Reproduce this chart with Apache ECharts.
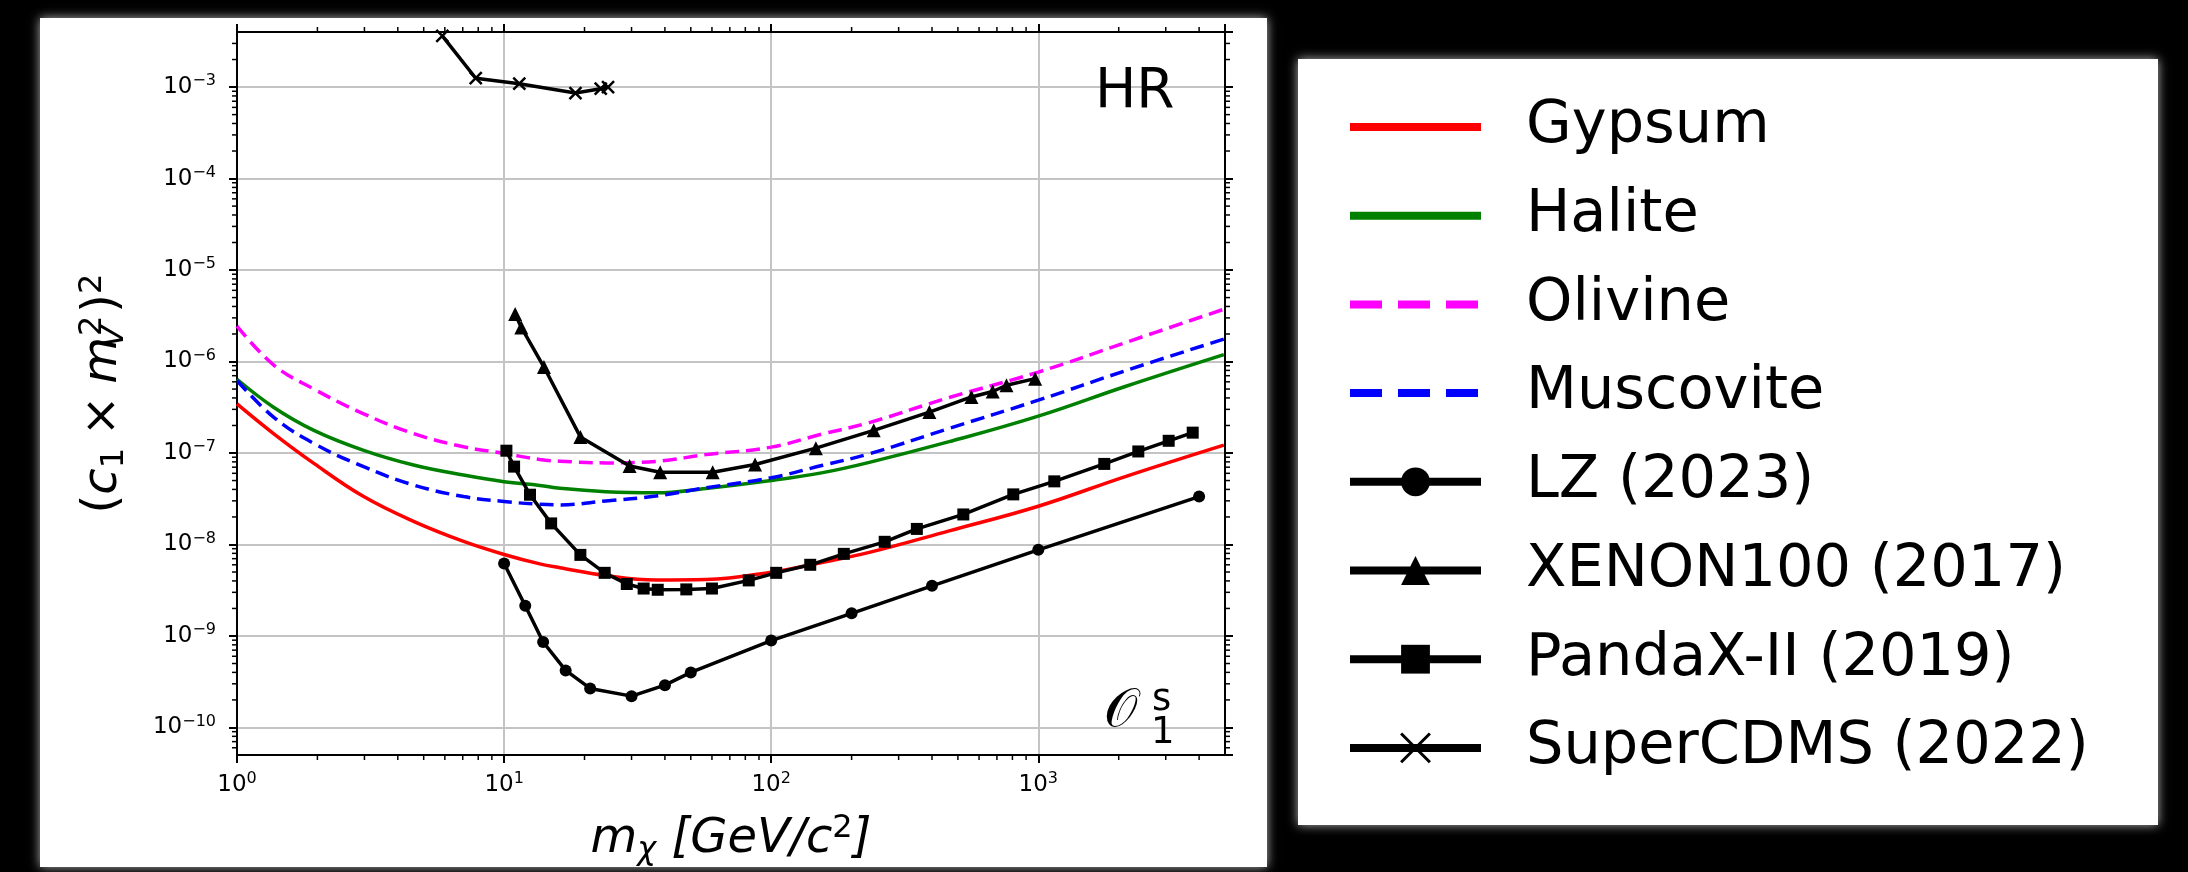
<!DOCTYPE html>
<html><head><meta charset="utf-8">
<script src="https://cdn.jsdelivr.net/npm/echarts@6.0.0/dist/echarts.min.js"></script>
<style>html,body{margin:0;padding:0;background:#000;overflow:hidden}#c{width:2188px;height:872px}</style>
</head><body><div id="c"></div><script>
// ---------- data ----------
const massGrid  = [1, 1.37, 1.94, 2.98, 4.58, 7.05, 10, 13.6, 16.2, 24, 37, 57, 100, 156, 233, 464, 1000, 2130, 4950];
const gypsum    = [3.44e-7, 1.63e-7, 7.7e-8, 3.34e-8, 1.79e-8, 1.08e-8, 7.78e-9, 6.14e-9, 5.57e-9, 4.58e-9, 4.1e-9, 4.15e-9, 4.99e-9, 6.4e-9, 8.2e-9, 1.41e-8, 2.62e-8, 5.56e-8, 1.22e-7];
const halite    = [6.4e-7, 3.17e-7, 1.77e-7, 1.07e-7, 7.4e-8, 5.74e-8, 4.86e-8, 4.42e-8, 4.11e-8, 3.78e-8, 3.68e-8, 4.1e-8, 5.0e-8, 6.1e-8, 7.9e-8, 1.33e-7, 2.53e-7, 5.37e-7, 1.19e-6];
const olivine   = [2.44e-6, 9.2e-7, 5.0e-7, 2.68e-7, 1.63e-7, 1.17e-7, 9.9e-8, 8.5e-8, 8.15e-8, 7.8e-8, 8.1e-8, 9.6e-8, 1.16e-7, 1.62e-7, 2.15e-7, 4.04e-7, 7.66e-7, 1.62e-6, 3.73e-6];
const muscovite = [6.2e-7, 2.47e-7, 1.27e-7, 7.08e-8, 4.47e-8, 3.34e-8, 2.95e-8, 2.75e-8, 2.71e-8, 2.99e-8, 3.39e-8, 4.17e-8, 5.36e-8, 7.35e-8, 9.8e-8, 1.86e-7, 3.78e-7, 7.98e-7, 1.76e-6];

const lzMass  = [10, 12, 14, 17, 21, 30, 40, 50, 100, 200, 400, 1000, 4000];
const lzLimit = [6.2e-9, 2.14e-9, 8.6e-10, 4.2e-10, 2.67e-10, 2.2e-10, 2.9e-10, 4.0e-10, 8.9e-10, 1.77e-9, 3.53e-9, 8.75e-9, 3.34e-8];

const xenonMass  = [11.0, 11.6, 14.1, 19.3, 29.5, 38.4, 60.4, 87, 147, 242, 391, 562, 675, 760, 973];
const xenonLimit = [3.3e-6, 2.36e-6, 8.7e-7, 1.5e-7, 7.2e-8, 6.15e-8, 6.15e-8, 7.5e-8, 1.13e-7, 1.77e-7, 2.8e-7, 4.1e-7, 4.7e-7, 5.5e-7, 6.5e-7];

const pandaMass  = [10.2, 10.9, 12.5, 15.0, 19.3, 23.8, 28.8, 33.3, 37.6, 48.1, 60, 82.4, 104.4, 140, 187, 266, 351, 524, 806, 1148, 1766, 2368, 3077, 3785];
const pandaLimit = [1.06e-7, 7.1e-8, 3.5e-8, 1.7e-8, 7.7e-9, 4.9e-9, 3.7e-9, 3.3e-9, 3.2e-9, 3.23e-9, 3.3e-9, 4.05e-9, 4.9e-9, 6.0e-9, 7.9e-9, 1.07e-8, 1.48e-8, 2.13e-8, 3.53e-8, 4.9e-8, 7.6e-8, 1.04e-7, 1.36e-7, 1.67e-7];

const cdmsMass  = [5.87, 7.83, 11.4, 18.5, 23.0, 24.5];
const cdmsLimit = [3.63e-3, 1.25e-3, 1.09e-3, 8.6e-4, 9.6e-4, 1.0e-3];

const X_MIN = 1, X_MAX = 5000, Y_MIN = 5e-11, Y_MAX = 4e-3;
const minorMultipliers = [2, 3, 4, 5, 6, 7, 8, 9];
const xDecades = [1, 10, 100, 1000];
const yDecades = [1e-11, 1e-10, 1e-9, 1e-8, 1e-7, 1e-6, 1e-5, 1e-4, 1e-3];

// ---------- helpers ----------
const FONT = 'DejaVu Sans';
function pairs(xs, ys) { return xs.map((x, i) => [x, ys[i]]); }
function minorValues(decades, lo, hi) {
  const out = [];
  decades.forEach(d => minorMultipliers.forEach(m => { const v = d * m; if (v > lo * 1.0001 && v < hi * 0.9999) out.push(v); }));
  return out;
}
function expLabel(v) {
  const e = Math.round(Math.log10(v));
  return '{b|10}{e|' + (e < 0 ? '\u2212' + (-e) : String(e)) + '}';
}
const tickRich = {
  b: { fontFamily: FONT, fontSize: 23, color: '#000', lineHeight: 28 },
  e: { fontFamily: FONT, fontSize: 16, color: '#000', lineHeight: 16, verticalAlign: 'top' }
};
const axisLineStyle = { color: '#000', width: 2 };

function minorTickSeries(values, dir) {
  return {
    type: 'custom', silent: true, z: 6, clip: false,
    data: values.map(v => dir === 'x' ? [v, Y_MIN] : [X_MIN, v]),
    renderItem: function (params, api) {
      const cs = params.coordSys;
      const p = api.coord([api.value(0), api.value(1)]);
      const st = { stroke: '#000', lineWidth: 1.5 };
      if (dir === 'x') {
        const x = p[0], b = cs.y + cs.height, t = cs.y;
        return { type: 'group', children: [
          { type: 'line', shape: { x1: x, y1: b, x2: x, y2: b + 5 }, style: st },
          { type: 'line', shape: { x1: x, y1: t, x2: x, y2: t - 5 }, style: st }
        ]};
      }
      const y = p[1], l = cs.x, r = cs.x + cs.width;
      return { type: 'group', children: [
        { type: 'line', shape: { x1: l, y1: y, x2: l - 5, y2: y }, style: st },
        { type: 'line', shape: { x1: r, y1: y, x2: r + 5, y2: y }, style: st }
      ]};
    }
  };
}

function curve(name, xs, ys, color, type) {
  return { name: name, type: 'line', data: pairs(xs, ys), smooth: 0.4, symbol: 'none',
    lineStyle: { color: color, width: 3.5, type: type }, itemStyle: { color: color }, z: 2 };
}
function experiment(name, xs, ys, symbol, size, extraItem) {
  return { name: name, type: 'line', data: pairs(xs, ys), symbol: symbol, symbolSize: size,
    showSymbol: true, showAllSymbol: true,
    lineStyle: { color: '#000', width: 3.5 },
    itemStyle: Object.assign({ color: '#000' }, extraItem || {}), z: 3 };
}

const chart = echarts.init(document.getElementById('c'), null, { renderer: 'canvas' });
const hidden = { color: 'rgba(0,0,0,0)', borderWidth: 0 };
const TF = 48, TS = 32;

chart.setOption({
  backgroundColor: '#000',
  animation: false,
  textStyle: { fontFamily: FONT },
  grid: { left: 237, top: 32, width: 988, height: 729, containLabel: false },
  graphic: [
    { type: 'rect', z: -10, shape: { x: 40, y: 18, width: 1227, height: 849 },
      style: { fill: '#fff', shadowBlur: 10, shadowColor: 'rgba(255,255,255,0.7)' } },
    { type: 'rect', z: -10, shape: { x: 1298, y: 59, width: 860, height: 766 },
      style: { fill: '#fff', shadowBlur: 10, shadowColor: 'rgba(255,255,255,0.7)' } },
    { type: 'text', z: 10, x: 1095, y: 92.5,
      style: { text: 'HR', fontFamily: FONT, fontSize: 55, fill: '#000', align: 'left', verticalAlign: 'middle', textAlign: 'left', textVerticalAlign: 'middle' } },
    { type: 'text', z: 10, x: 1104, y: 712,
      style: { text: '\uD835\uDCAA', fontFamily: 'DejaVu Serif, DejaVu Sans, serif', fontSize: 53, fill: '#000', align: 'left', verticalAlign: 'middle', textAlign: 'left', textVerticalAlign: 'middle' } },
    { type: 'text', z: 10, x: 1152, y: 700,
      style: { text: 's', fontFamily: FONT, fontSize: 37, fill: '#000', align: 'left', verticalAlign: 'middle', textAlign: 'left', textVerticalAlign: 'middle' } },
    { type: 'text', z: 10, x: 1151, y: 733,
      style: { text: '1', fontFamily: FONT, fontSize: 37, fill: '#000', align: 'left', verticalAlign: 'middle', textAlign: 'left', textVerticalAlign: 'middle' } }
  ],
  legend: {
    orient: 'vertical', left: 1346, top: 97.5, padding: 0, itemGap: 29.7,
    itemWidth: 131, itemHeight: 36, selectedMode: false,
    textStyle: { fontFamily: FONT, fontSize: 59, color: '#000', lineHeight: 59, padding: [0, 0, 0, 40] },
    lineStyle: { width: 8 },
    data: [
      { name: 'Gypsum', itemStyle: hidden },
      { name: 'Halite', itemStyle: hidden },
      { name: 'Olivine', itemStyle: hidden },
      { name: 'Muscovite', itemStyle: hidden },
      { name: 'LZ (2023)' },
      { name: 'XENON100 (2017)' },
      { name: 'PandaX-II (2019)' },
      { name: 'SuperCDMS (2022)', itemStyle: { borderWidth: 3, borderColor: '#000' } }
    ]
  },
  xAxis: [
    { type: 'log', logBase: 10, min: X_MIN, max: X_MAX, position: 'bottom',
      axisLine: { lineStyle: axisLineStyle }, axisTick: { length: 8, lineStyle: axisLineStyle },
      axisLabel: { formatter: expLabel, rich: tickRich, margin: 16, showMaxLabel: false, color: '#000' },
      splitLine: { show: true, lineStyle: { color: '#c4c4c4', width: 2 } },
      name: '{i|m}{s|\u03C7}{i| [GeV/c}{p|2}{i|]}', nameLocation: 'middle', nameGap: 58,
      nameTextStyle: { rich: {
        i: { fontFamily: FONT, fontStyle: 'italic', fontSize: TF, color: '#000', lineHeight: 54 },
        s: { fontFamily: FONT, fontStyle: 'italic', fontSize: TS, color: '#000', lineHeight: 31, verticalAlign: 'bottom' },
        p: { fontFamily: FONT, fontSize: TS, color: '#000', lineHeight: 2, verticalAlign: 'top' }
      } } },
    { type: 'log', logBase: 10, min: X_MIN, max: X_MAX, position: 'top',
      axisLine: { lineStyle: axisLineStyle }, axisTick: { length: 8, lineStyle: axisLineStyle },
      axisLabel: { show: false }, splitLine: { show: false } }
  ],
  yAxis: [
    { type: 'log', logBase: 10, min: Y_MIN, max: Y_MAX, position: 'left',
      axisLine: { lineStyle: axisLineStyle }, axisTick: { length: 8, lineStyle: axisLineStyle },
      axisLabel: { formatter: expLabel, rich: tickRich, margin: 21, showMinLabel: false, showMaxLabel: false, color: '#000' },
      splitLine: { show: true, lineStyle: { color: '#c4c4c4', width: 2 } },
      name: '{p|(}{it|c}{sb|1}{p|\u2005\u00D7\u2005}{it|m}{sv|V}{sp|2}{p|)}{sq|2}', nameLocation: 'middle', nameGap: 106, nameRotate: 90,
      nameTextStyle: { rich: {
        p: { fontFamily: FONT, fontSize: TF, color: '#000', lineHeight: 54 },
        it: { fontFamily: FONT, fontStyle: 'italic', fontSize: TF, color: '#000', lineHeight: 54 },
        sb: { fontFamily: FONT, fontSize: TS, color: '#000', lineHeight: 31, verticalAlign: 'bottom' },
        sv: { fontFamily: FONT, fontStyle: 'italic', fontSize: TS, color: '#000', lineHeight: 31, verticalAlign: 'bottom', width: 1, align: 'left' },
        sp: { fontFamily: FONT, fontSize: TS, color: '#000', lineHeight: 2, verticalAlign: 'top', padding: [0, 3, 0, 0] },
        sq: { fontFamily: FONT, fontSize: TS, color: '#000', lineHeight: 2, verticalAlign: 'top' }
      } } },
    { type: 'log', logBase: 10, min: Y_MIN, max: Y_MAX, position: 'right',
      axisLine: { lineStyle: axisLineStyle }, axisTick: { length: 8, lineStyle: axisLineStyle },
      axisLabel: { show: false }, splitLine: { show: false } }
  ],
  series: [
    curve('Gypsum', massGrid, gypsum, '#ff0000', 'solid'),
    curve('Halite', massGrid, halite, '#008000', 'solid'),
    curve('Olivine', massGrid, olivine, '#ff00ff', 'dashed'),
    curve('Muscovite', massGrid, muscovite, '#0000ff', 'dashed'),
    experiment('LZ (2023)', lzMass, lzLimit, 'circle', 12),
    experiment('XENON100 (2017)', xenonMass, xenonLimit, 'triangle', 14),
    experiment('PandaX-II (2019)', pandaMass, pandaLimit, 'rect', 12),
    experiment('SuperCDMS (2022)', cdmsMass, cdmsLimit, 'path://M0,0L10,10M10,0L0,10', 12, { borderColor: '#000', borderWidth: 2.5 }),
    minorTickSeries(minorValues(xDecades, X_MIN, X_MAX), 'x'),
    minorTickSeries(minorValues(yDecades, Y_MIN, Y_MAX), 'y')
  ]
});
</script></body></html>
